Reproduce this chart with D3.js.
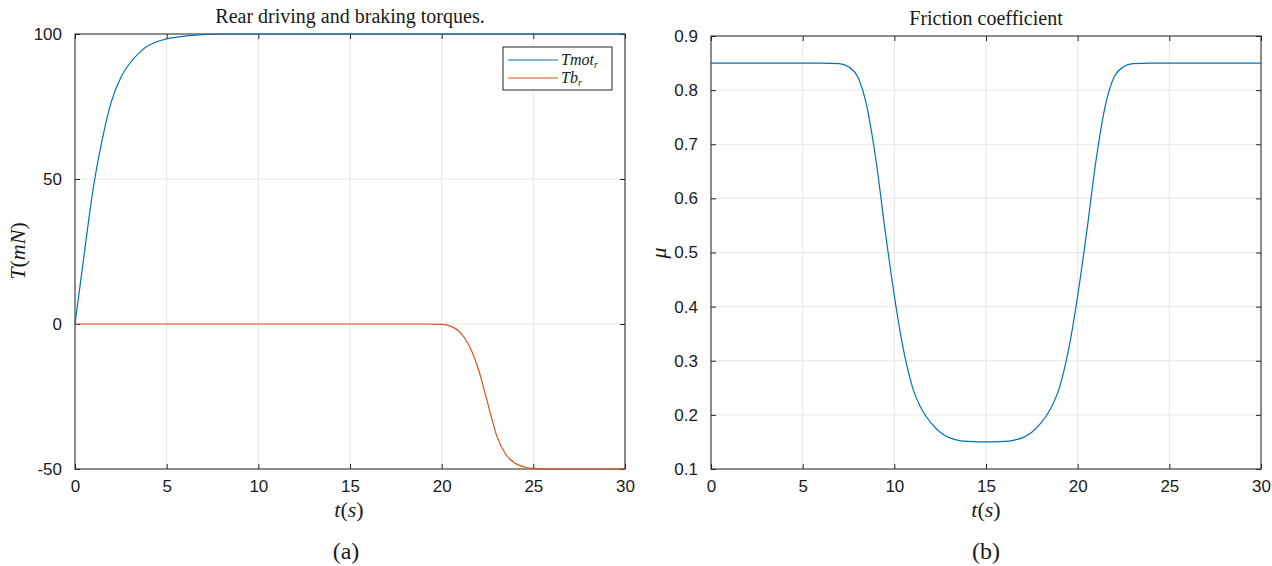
<!DOCTYPE html>
<html>
<head>
<meta charset="utf-8">
<script src="https://cdn.jsdelivr.net/npm/d3@7"></script>
<style>
  body { margin: 0; background: #fff; }
  .tick text { font-family: "Liberation Sans", Arial, sans-serif; font-size: 17px; fill: #1a1a1a; }
  .ttl { font-family: "Liberation Serif", "DejaVu Serif", serif; font-size: 20px; fill: #1a1a1a; }
  .lbl { font-family: "Liberation Serif", "DejaVu Serif", serif; font-size: 22px; fill: #1a1a1a; }
  .lbl .it { font-style: italic; }
  .cap { font-family: "Liberation Serif", "DejaVu Serif", serif; font-size: 24px; fill: #1a1a1a; }
  .leg { font-family: "Liberation Serif", "DejaVu Serif", serif; font-style: italic; font-size: 16px; fill: #1a1a1a; }
</style>
</head>
<body>
<svg width="1272" height="566"></svg>
<script>
// Rear torques (left panel)
const tmotTime = [0, 0.25, 0.5, 0.75, 1, 1.5, 2, 2.5, 3, 3.5, 4, 4.5, 5, 6, 7, 8, 10, 30];
const tmotValues = [0, 12, 24, 36, 47, 64, 77, 85, 90, 93.5, 96, 97.4, 98.3, 99.3, 99.8, 100, 100, 100];

const tbTime = [0, 19, 20, 20.5, 21, 21.5, 22, 22.5, 23, 23.5, 24, 24.5, 25, 26, 30];
const tbValues = [0, 0, -0.1, -0.8, -2.8, -7.5, -15.5, -27, -38.5, -45, -48, -49.3, -49.8, -50, -50];

// Friction coefficient (right panel)
const muTime = [0, 6, 7, 7.5, 8, 8.5, 9, 9.5, 10, 10.5, 11, 11.5, 12, 12.5, 13, 13.5, 14, 15,
  16, 16.5, 17, 17.5, 18, 18.5, 19, 19.5, 20, 20.5, 21, 21.5, 22, 22.5, 23, 24, 30];
const muValues = [0.85, 0.85, 0.849, 0.843, 0.825, 0.77, 0.67, 0.54, 0.42, 0.32, 0.25, 0.21, 0.185, 0.168, 0.158, 0.153, 0.151, 0.15,
  0.151, 0.153, 0.158, 0.168, 0.185, 0.21, 0.25, 0.32, 0.42, 0.54, 0.67, 0.77, 0.825, 0.843, 0.849, 0.85, 0.85];

const xTicks = [0, 5, 10, 15, 20, 25, 30];
const torqueTicks = [-50, 0, 50, 100];
const muTicks = [0.1, 0.2, 0.3, 0.4, 0.5, 0.6, 0.7, 0.8, 0.9];

const blue = "#0072BD";
const orange = "#D95319";

const svg = d3.select("svg");

// draws one MATLAB-like box with grid and mirrored inward ticks
function panel(box, yDomain, yTicks, yFmt) {
  const x = d3.scaleLinear().domain([0, 30]).range([box.left, box.right]);
  const y = d3.scaleLinear().domain(yDomain).range([box.bottom, box.top]);
  const g = svg.append("g");

  // grid
  g.selectAll("line.gx").data(xTicks).enter().append("line")
    .attr("x1", (d) => x(d)).attr("x2", (d) => x(d))
    .attr("y1", box.top).attr("y2", box.bottom)
    .attr("stroke", "#e6e6e6");
  g.selectAll("line.gy").data(yTicks).enter().append("line")
    .attr("x1", box.left).attr("x2", box.right)
    .attr("y1", (d) => y(d)).attr("y2", (d) => y(d))
    .attr("stroke", "#e6e6e6");

  const axisStyle = (sel) => {
    sel.select(".domain").remove();
    sel.selectAll(".tick line").attr("stroke", "#262626");
  };

  g.append("g").attr("transform", `translate(0,${box.bottom})`)
    .call(d3.axisBottom(x).tickValues(xTicks).tickSizeInner(-5).tickPadding(11))
    .call(axisStyle);
  g.append("g").attr("transform", `translate(0,${box.top})`)
    .call(d3.axisTop(x).tickValues(xTicks).tickSizeInner(-5).tickFormat(""))
    .call(axisStyle);
  g.append("g").attr("transform", `translate(${box.left},0)`)
    .call(d3.axisLeft(y).tickValues(yTicks).tickSizeInner(-5).tickPadding(13).tickFormat(yFmt))
    .call(axisStyle);
  g.append("g").attr("transform", `translate(${box.right},0)`)
    .call(d3.axisRight(y).tickValues(yTicks).tickSizeInner(-5).tickFormat(""))
    .call(axisStyle);

  g.append("rect")
    .attr("x", box.left).attr("y", box.top)
    .attr("width", box.right - box.left).attr("height", box.bottom - box.top)
    .attr("fill", "none").attr("stroke", "#262626").attr("stroke-width", 1);

  return { x, y, g };
}

function addLine(p, ts, vs, color) {
  const line = d3.line()
    .x((d) => p.x(d[0]))
    .y((d) => p.y(d[1]))
    .curve(d3.curveMonotoneX);
  p.g.append("path")
    .datum(d3.zip(ts, vs))
    .attr("d", line)
    .attr("fill", "none")
    .attr("stroke", color)
    .attr("stroke-width", 1.2);
}

// math-style label: italic letters, upright parentheses
function mathLabel(sel, parts) {
  parts.forEach(([txt, it]) => {
    sel.append("tspan").attr("class", it ? "it" : null).text(txt);
  });
}

// Left panel (ticks use a plain hyphen like MATLAB)
const left = panel({ left: 75, right: 625, top: 34, bottom: 469 }, [-50, 100], torqueTicks, (d) => String(d));
addLine(left, tmotTime, tmotValues, blue);
addLine(left, tbTime, tbValues, orange);

svg.append("text").attr("class", "ttl").attr("x", 350).attr("y", 23)
  .attr("text-anchor", "middle").text("Rear driving and braking torques.");
svg.append("text").attr("class", "lbl").attr("x", 349).attr("y", 517)
  .attr("text-anchor", "middle")
  .call(mathLabel, [["t", true], ["(", false], ["s", true], [")", false]]);
svg.append("text").attr("class", "lbl")
  .attr("transform", "translate(25,251) rotate(-90)")
  .attr("text-anchor", "middle")
  .call(mathLabel, [["T", true], ["(", false], ["mN", true], [")", false]]);
svg.append("text").attr("class", "cap").attr("x", 346).attr("y", 559)
  .attr("text-anchor", "middle").text("(a)");

// legend
const legend = svg.append("g").attr("transform", "translate(503,47)");
legend.append("rect").attr("width", 109).attr("height", 43)
  .attr("fill", "#fff").attr("stroke", "#262626");
const legendItems = [["Tmot", blue], ["Tb", orange]];
legendItems.forEach(([name, color], i) => {
  const yy = 13 + i * 18;
  legend.append("line").attr("x1", 5).attr("x2", 55).attr("y1", yy).attr("y2", yy)
    .attr("stroke", color).attr("stroke-width", 1.2);
  const t = legend.append("text").attr("class", "leg").attr("x", 58).attr("y", yy + 5);
  t.append("tspan").text(name);
  t.append("tspan").attr("dy", 3).attr("font-size", 10).text("r");
});

// Right panel
const right = panel({ left: 711, right: 1261, top: 36, bottom: 469 }, [0.1, 0.9], muTicks, d3.format(".1f"));
addLine(right, muTime, muValues, blue);

svg.append("text").attr("class", "ttl").attr("x", 986).attr("y", 25)
  .attr("text-anchor", "middle").text("Friction coefficient");
svg.append("text").attr("class", "lbl").attr("x", 986).attr("y", 517)
  .attr("text-anchor", "middle")
  .call(mathLabel, [["t", true], ["(", false], ["s", true], [")", false]]);
svg.append("text").attr("class", "lbl")
  .attr("transform", "translate(666,253) rotate(-90)")
  .attr("text-anchor", "middle")
  .call(mathLabel, [["μ", true]]);
svg.append("text").attr("class", "cap").attr("x", 986).attr("y", 559)
  .attr("text-anchor", "middle").text("(b)");
</script>
</body>
</html>
